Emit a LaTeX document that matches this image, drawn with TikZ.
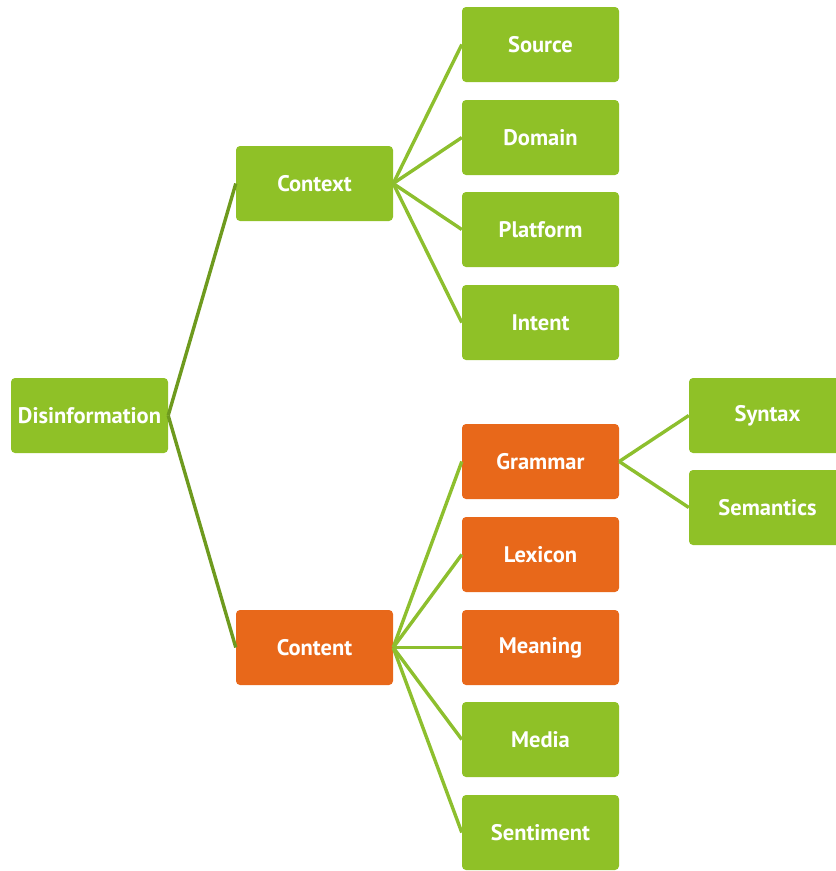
\documentclass[tikz,border=0pt]{standalone}
\usepackage{fontspec}
\setmainfont{PT Sans}
\usepackage{tikz}

\definecolor{leaf}{RGB}{143,193,39}
\definecolor{rust}{RGB}{232,104,26}
\definecolor{stem}{RGB}{110,154,30}
\definecolor{twig}{RGB}{141,191,46}

\tikzset{
  box/.style={rounded corners=4pt, minimum width=157pt, minimum height=75pt, inner sep=0pt,
    text=white, font=\fontsize{22.5}{26}\selectfont\bfseries},
  greenbox/.style={box, fill=leaf},
  orangebox/.style={box, fill=rust},
  trunk/.style={stem, line width=3.4pt},
  branch/.style={twig, line width=3.4pt}
}

\begin{document}
\begin{tikzpicture}[x=1pt,y=-1pt]
		\useasboundingbox (0,0) rectangle (836,871);

		\node[greenbox] (disinfo) at (89.5,415.5) {Disinformation};
		\node[greenbox] (context) at (314.5,183.5) {Context};
		\node[orangebox] (content) at (314.5,647.5) {Content};

		\node[greenbox] (source) at (540.5,44.5) {Source};
		\node[greenbox] (domain) at (540.5,137.5) {Domain};
		\node[greenbox] (platform) at (540.5,229.5) {Platform};
		\node[greenbox] (intent) at (540.5,322.5) {Intent};

		\node[orangebox] (grammar) at (540.5,461.5) {Grammar};
		\node[orangebox] (lexicon) at (540.5,554.5) {Lexicon};
		\node[orangebox] (meaning) at (540.5,647.5) {Meaning};
		\node[greenbox] (media) at (540.5,739.5) {Media};
		\node[greenbox] (sentiment) at (540.5,832.5) {Sentiment};

		\node[greenbox] (syntax) at (767.5,415.5) {Syntax};
		\node[greenbox] (semantics) at (767.5,507.5) {Semantics};

		\draw[trunk] (disinfo.east) -- (context.west);
		\draw[trunk] (disinfo.east) -- (content.west);

		\draw[branch] (context.east) -- (source.west);
		\draw[branch] (context.east) -- (domain.west);
		\draw[branch] (context.east) -- (platform.west);
		\draw[branch] (context.east) -- (intent.west);

		\draw[branch] (content.east) -- (grammar.west);
		\draw[branch] (content.east) -- (lexicon.west);
		\draw[branch] (content.east) -- (meaning.west);
		\draw[branch] (content.east) -- (media.west);
		\draw[branch] (content.east) -- (sentiment.west);

		\draw[branch] (grammar.east) -- (syntax.west);
		\draw[branch] (grammar.east) -- (semantics.west);
\end{tikzpicture}
\end{document}
